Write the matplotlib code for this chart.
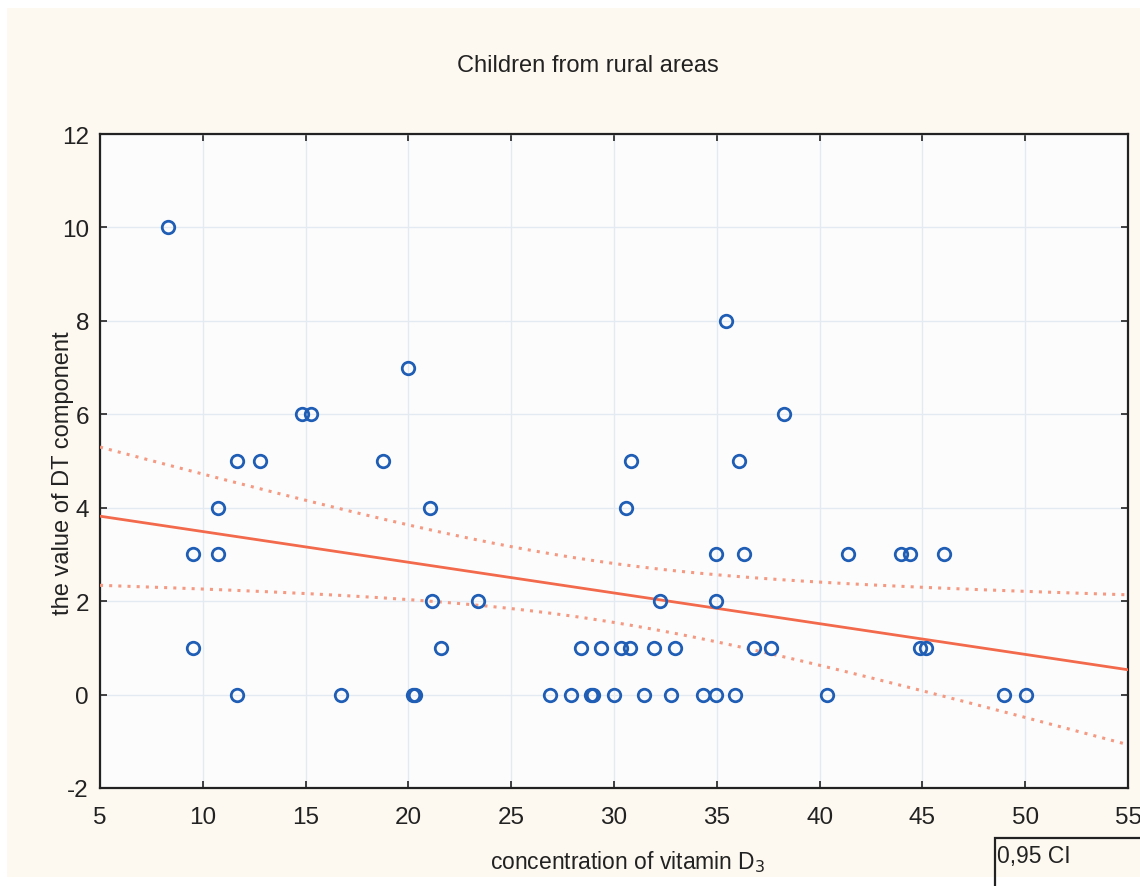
'''Scatter of DT component vs vitamin D3 concentration, rural children,
with linear fit and 0.95 confidence band.
'''

# ----------------------------------------------------------------------------
# Modules
from matplotlib import pyplot as plt
from matplotlib.patches import Rectangle
import numpy as np

# ----------------------------------------------------------------------------
# Data

vit_d3 = [8.31, 9.52, 9.52, 10.76, 10.76, 11.66, 11.66, 12.78, 14.82, 15.26,
          16.72, 18.76, 19.98, 20.22, 20.30, 21.05, 21.15, 21.59, 23.39,
          26.89, 27.91, 28.39, 28.88, 28.96, 29.37, 30.00, 30.34, 30.58,
          30.78, 30.83, 31.46, 31.95, 32.24, 32.78, 32.98, 34.33, 34.96,
          34.96, 34.96, 35.45, 35.89, 36.08, 36.32, 36.81, 37.64, 38.27,
          40.36, 41.38, 43.96, 44.40, 44.88, 45.17, 46.05, 48.97, 50.04]

dt_value = [10, 3, 1, 4, 3, 5, 0, 5, 6, 6,
            0, 5, 7, 0, 0, 4, 2, 1, 2,
            0, 0, 1, 0, 0, 1, 0, 1, 4,
            1, 5, 0, 1, 2, 0, 1, 0, 0,
            2, 3, 8, 0, 5, 3, 1, 1, 6,
            0, 3, 3, 3, 1, 1, 3, 0, 0]

x_ticks = [5, 10, 15, 20, 25, 30, 35, 40, 45, 50, 55]
y_ticks = [-2, 0, 2, 4, 6, 8, 10, 12]

# ----------------------------------------------------------------------------


def fit_with_band(x, y, x_grid):
    """Least squares line and 0.95 confidence band of the mean."""

    x = np.asarray(x, dtype=float)
    y = np.asarray(y, dtype=float)
    n = len(x)
    slope, inter = np.polyfit(x, y, 1)
    resid = y - (slope * x + inter)
    s = np.sqrt(np.sum(resid ** 2) / (n - 2))
    sxx = np.sum((x - x.mean()) ** 2)
    t_val = 2.006  # t(0.975, n - 2) for n = 55
    y_fit = slope * x_grid + inter
    half = t_val * s * np.sqrt(1.0 / n + (x_grid - x.mean()) ** 2 / sxx)

    return y_fit, y_fit - half, y_fit + half

# ----------------------------------------------------------------------------


def main():

    plt.rcParams['font.family'] = ['Liberation Sans', 'DejaVu Sans']
    plt.rcParams['axes.unicode_minus'] = False

    fig = plt.figure(figsize=(11.4, 8.87), dpi=100, facecolor='white')
    fig.patches.append(Rectangle((7 / 1140, 9 / 887), 1 - 7 / 1140,
                                 (878 - 9) / 887, transform=fig.transFigure,
                                 facecolor='#fdf9f1', edgecolor='none',
                                 zorder=-5))

    ax = fig.add_axes([100 / 1140, (887 - 789) / 887, 1028 / 1140,
                       654 / 887])
    ax.set_facecolor('#fcfcfd')

    x_grid = np.linspace(5, 55, 200)
    y_fit, y_low, y_up = fit_with_band(vit_d3, dt_value, x_grid)

    ax.plot(x_grid, y_fit, color='#f26a4b', linewidth=2, zorder=3)
    ax.plot(x_grid, y_low, color='#f59a82', linewidth=2.2,
            linestyle=(0, (1, 2)), zorder=3)
    ax.plot(x_grid, y_up, color='#f59a82', linewidth=2.2,
            linestyle=(0, (1, 2)), zorder=3)

    ax.plot(vit_d3, dt_value, 'o', markersize=9, markerfacecolor='none',
            markeredgecolor='#1f5eb4', markeredgewidth=2, zorder=4)

    ax.set_xlim(5, 55)
    ax.set_ylim(-2, 12)
    ax.set_xticks(x_ticks)
    ax.set_yticks(y_ticks)
    ax.tick_params(direction='in', length=5, width=1.2, top=True, right=True,
                   labelsize=17.5, colors='#222222')
    ax.tick_params(axis='x', pad=13)
    ax.tick_params(axis='y', pad=8)
    ax.grid(True, color='#e3eaf1', linewidth=1)
    ax.set_axisbelow(True)
    for spine in ax.spines.values():
        spine.set_color('#222222')
        spine.set_linewidth(1.6)

    fig.text(588 / 1140, 1 - 66 / 887, 'Children from rural areas',
             fontsize=17, ha='center', va='center', color='#222222')
    fig.text(628 / 1140, 1 - 869 / 887, r'concentration of vitamin D$_3$',
             fontsize=16.5, ha='center', va='baseline', color='#222222')
    fig.text(63 / 1140, 1 - 473 / 887, 'the value of DT component',
             fontsize=17, ha='center', va='center', rotation=90,
             color='#222222')

    fig.patches.append(Rectangle((995 / 1140, -0.01), 0.2,
                                 (887 - 839) / 887 + 0.01,
                                 transform=fig.transFigure,
                                 facecolor='none', edgecolor='#222222',
                                 linewidth=1.6, zorder=2))
    fig.text(997 / 1140, 1 - 857 / 887, '0,95 CI', fontsize=16.5,
             ha='left', va='center', color='#222222')

    plt.savefig('out.png', dpi=100, facecolor=fig.get_facecolor())

    return None

# ----------------------------------------------------------------------------


if __name__ == "__main__":
    main()
